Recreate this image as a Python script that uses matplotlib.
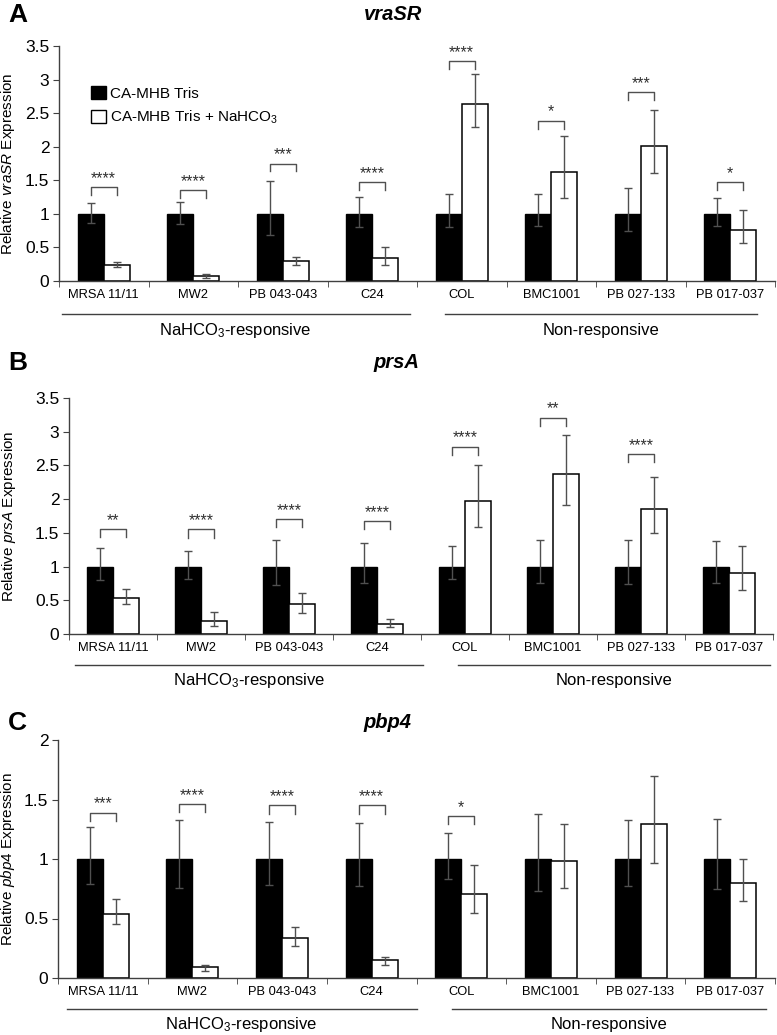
import matplotlib
matplotlib.use('Agg')
import matplotlib.pyplot as plt
import matplotlib.transforms as mtransforms
from matplotlib.patches import Patch
import numpy as np

plt.rcParams['font.family'] = ['Liberation Sans', 'DejaVu Sans']
plt.rcParams['mathtext.fontset'] = 'custom'
plt.rcParams['mathtext.rm'] = 'Liberation Sans'
plt.rcParams['mathtext.it'] = 'Liberation Sans:italic'
plt.rcParams['mathtext.bf'] = 'Liberation Sans:bold:italic'

# ==========================================
# DATA
# ==========================================
strains = ['MRSA 11/11', 'MW2', 'PB 043-043', 'C24',
           'COL', 'BMC1001', 'PB 027-133', 'PB 017-037']
ctrl_vals = [1, 1, 1, 1, 1, 1, 1, 1]

# vraSR
ctrl_lo_a = [0.86, 0.85, 0.68, 0.80, 0.81, 0.82, 0.75, 0.82]
ctrl_hi_a = [1.16, 1.17, 1.49, 1.25, 1.30, 1.29, 1.39, 1.24]
bic_a = [0.24, 0.075, 0.30, 0.35, 2.63, 1.62, 2.01, 0.76]
bic_lo_a = [0.21, 0.05, 0.24, 0.24, 2.29, 1.23, 1.61, 0.56]
bic_hi_a = [0.29, 0.11, 0.36, 0.51, 3.08, 2.16, 2.54, 1.06]
sig_y_a = [1.40, 1.36, 1.75, 1.48, 3.27, 2.39, 2.81, 1.47]
sig_a = ['****', '****', '***', '****', '****', '*', '***', '*']

# prsA
ctrl_lo_b = [0.80, 0.82, 0.73, 0.76, 0.81, 0.75, 0.74, 0.75]
ctrl_hi_b = [1.27, 1.23, 1.39, 1.35, 1.30, 1.40, 1.40, 1.38]
bic_b = [0.54, 0.19, 0.44, 0.15, 1.97, 2.38, 1.85, 0.90]
bic_lo_b = [0.45, 0.12, 0.31, 0.10, 1.58, 1.92, 1.50, 0.65]
bic_hi_b = [0.66, 0.33, 0.61, 0.22, 2.51, 2.95, 2.33, 1.30]
sig_y_b = [1.56, 1.55, 1.70, 1.68, 2.78, 3.21, 2.67, None]
sig_b = ['**', '****', '****', '****', '****', '**', '****', '']

# pbp4
ctrl_lo_c = [0.79, 0.76, 0.78, 0.77, 0.83, 0.73, 0.77, 0.75]
ctrl_hi_c = [1.27, 1.33, 1.31, 1.30, 1.22, 1.38, 1.33, 1.34]
bic_c = [0.54, 0.09, 0.34, 0.15, 0.71, 0.98, 1.29, 0.80]
bic_lo_c = [0.45, 0.06, 0.27, 0.11, 0.55, 0.76, 0.97, 0.65]
bic_hi_c = [0.66, 0.11, 0.43, 0.18, 0.95, 1.29, 1.70, 1.00]
sig_y_c = [1.39, 1.46, 1.45, 1.45, 1.36, None, None, None]
sig_c = ['***', '****', '****', '****', '*', '', '', '']

legend_labels = ['CA-MHB Tris', 'CA-MHB Tris + NaHCO$_3$']
group_labels = ['NaHCO$_3$-responsive', 'Non-responsive']

# ==========================================
# FIGURE
# ==========================================
W, H = 777, 1035
fig = plt.figure(figsize=(W / 100, H / 100), dpi=100)


def px_axes(left, right, top, bottom):
    return fig.add_axes([left / W, 1 - bottom / H, (right - left) / W, (bottom - top) / H])


err_col = '#505050'
bw = 0.29


def panel(ax, lo_c, hi_c, bic, lo_b, hi_b, sig_y, sig, ymax, gene,
          ylab_x, line_y, text_y, lines):
    x = np.arange(len(strains)) + 0.5
    ctrl = np.array(ctrl_vals, dtype=float)
    bic = np.array(bic)
    ax.bar(x - bw / 2, ctrl, bw, color='black', edgecolor='black', lw=1, zorder=2)
    ax.bar(x + bw / 2, bic, bw, color='white', edgecolor='black', lw=1.1, zorder=2)
    ax.errorbar(x - bw / 2, ctrl, yerr=[ctrl - np.array(lo_c), np.array(hi_c) - ctrl],
                fmt='none', ecolor=err_col, elinewidth=1, capsize=3, capthick=1, zorder=3)
    ax.errorbar(x + bw / 2, bic, yerr=[bic - np.array(lo_b), np.array(hi_b) - bic],
                fmt='none', ecolor=err_col, elinewidth=1, capsize=3, capthick=1, zorder=3)

    leg = 0.034 * ymax
    for xi, yb, s in zip(x, sig_y, sig):
        if yb is None:
            continue
        ax.plot([xi - bw / 2, xi - bw / 2, xi + bw / 2, xi + bw / 2],
                [yb - leg, yb, yb, yb - leg], color=err_col, lw=1, zorder=3)
        ax.text(xi, yb + 0.004 * ymax, s, ha='center', va='bottom', fontsize=11.5,
                color='#303030')

    ax.set_xlim(0, len(strains))
    ax.set_ylim(0, ymax)
    ticks = np.arange(0, ymax + 0.01, 0.5)
    ax.set_yticks(ticks)
    ax.set_yticklabels(['%g' % t for t in ticks], fontsize=12.5)
    ax.set_xticks(x)
    ax.set_xticklabels(strains, fontsize=9.3)
    ax.set_xticks(np.arange(len(strains) + 1), minor=True)
    ax.tick_params(axis='x', which='major', length=0, pad=6)
    ax.tick_params(axis='x', which='minor', length=4, direction='out', color='#404040')
    ax.tick_params(axis='y', length=4, direction='out', color='#404040', pad=3)
    for side in ['top', 'right']:
        ax.spines[side].set_visible(False)
    for side in ['left', 'bottom']:
        ax.spines[side].set_color('#404040')
        ax.spines[side].set_linewidth(1)

    ax.set_ylabel('Relative $\\mathit{%s}$ Expression' % gene, fontsize=11)
    ax.yaxis.set_label_coords(ylab_x, 0.5)

    trans = mtransforms.blended_transform_factory(ax.transData, ax.transAxes)
    for (x0, x1), lab in zip(lines, group_labels):
        ax.plot([x0, x1], [line_y, line_y], color='#404040', lw=1,
                transform=trans, clip_on=False)
        ax.text((x0 + x1) / 2, text_y, lab, transform=trans, ha='center',
                va='center', fontsize=12)


# Panel A
axA = px_axes(59, 775, 46, 281)
panel(axA, ctrl_lo_a, ctrl_hi_a, bic_a, bic_lo_a, bic_hi_a, sig_y_a, sig_a, 3.5,
      'vraSR', -0.058, -0.140, -0.209, [(0.03, 3.92), (4.31, 7.80)])
handles = [Patch(facecolor='black', edgecolor='black'),
           Patch(facecolor='white', edgecolor='black')]
axA.legend(handles, legend_labels, loc='upper left', bbox_to_anchor=(0.045, 0.83),
           frameon=False, fontsize=11, handlelength=0.95, handleheight=0.95,
           handletextpad=0.25, labelspacing=0.5, borderpad=0, borderaxespad=0)

# Panel B
axB = px_axes(69, 773, 398, 634)
panel(axB, ctrl_lo_b, ctrl_hi_b, bic_b, bic_lo_b, bic_hi_b, sig_y_b, sig_b, 3.5,
      'prsA', -0.073, -0.133, -0.196, [(0.07, 4.02), (4.42, 7.97)])

# Panel C
axC = px_axes(58, 775, 740, 978)
panel(axC, ctrl_lo_c, ctrl_hi_c, bic_c, bic_lo_c, bic_hi_c, sig_y_c, sig_c, 2.0,
      'pbp4', -0.057, -0.129, -0.196, [(0.10, 4.00), (4.40, 7.90)])

# Panel letters and titles
for letter, gene, cx, cy in [('A', 'vraSR', 393, 15), ('B', 'prsA', 396, 363),
                             ('C', 'pbp4', 387, 723)]:
    fig.text(8 / W, 1 - cy / H, letter, fontsize=19, fontweight='bold',
             ha='left', va='center')
    fig.text(cx / W, 1 - cy / H, gene, fontsize=14.5, fontweight='bold',
             style='italic', ha='center', va='center')

fig.savefig('out.png', dpi=100)
